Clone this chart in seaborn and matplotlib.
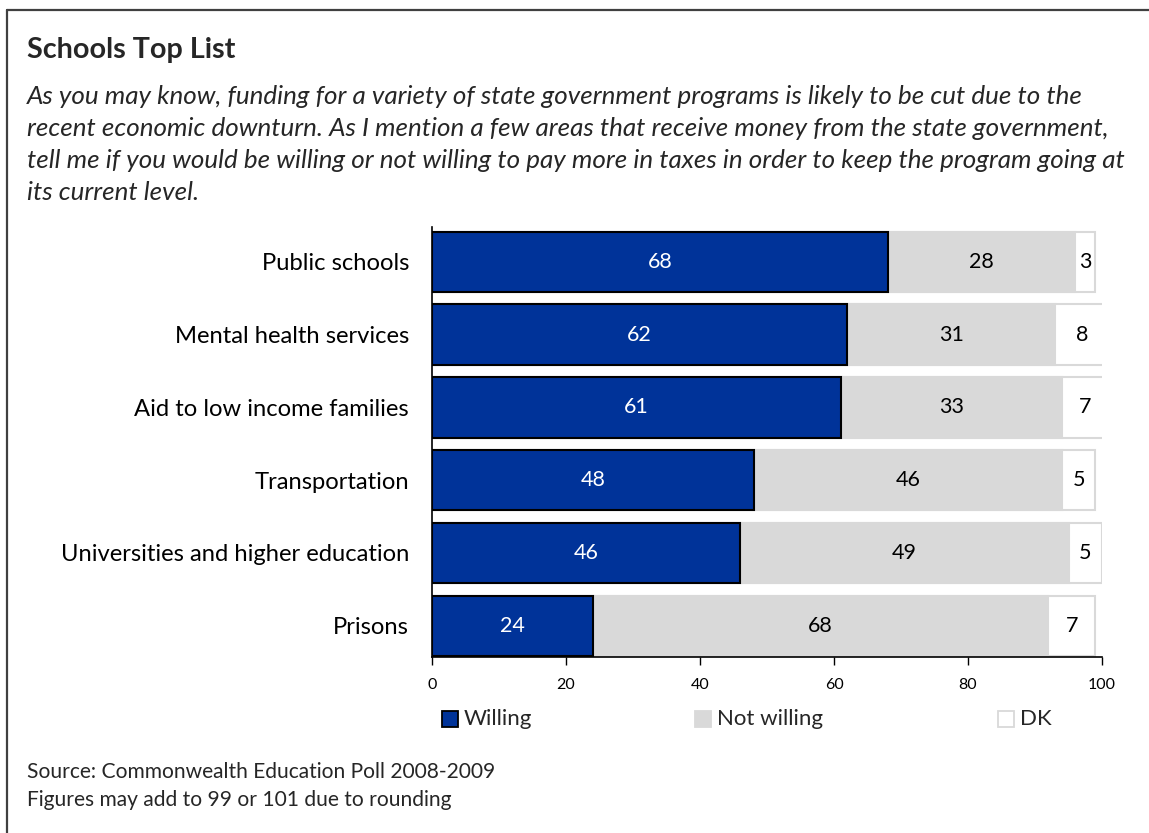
import matplotlib
matplotlib.use("Agg")
import matplotlib.pyplot as plt
import seaborn as sns
import pandas as pd
from matplotlib.patches import Rectangle
from matplotlib.lines import Line2D

categories = ["Public schools", "Mental health services", "Aid to low income families",
              "Transportation", "Universities and higher education", "Prisons"]
willing = [68, 62, 61, 48, 46, 24]
not_willing = [28, 31, 33, 46, 49, 68]
dk = [3, 8, 7, 5, 5, 7]
x_ticks = [0, 20, 40, 60, 80, 100]
series_names = ["Willing", "Not willing", "DK"]

df = pd.DataFrame({"category": categories, "willing": willing,
                   "not_willing": not_willing, "dk": dk})
df["cum2"] = df["willing"] + df["not_willing"]
df["cum3"] = df["cum2"] + df["dk"]

BLUE = "#003399"
GRAY = "#d9d9d9"
FONT = "Lato"

sns.set_theme(style="white")
plt.rcParams["font.family"] = [FONT, "DejaVu Sans"]

W, H = 1149, 833
fig = plt.figure(figsize=(W / 100, H / 100), dpi=100)
renderer = fig.canvas.get_renderer()


def fx(px):
    return px / W


def fy(py):
    return 1 - py / H


def fit_size(txt, target_px):
    """Scale a text object's font size so its rendered width equals target_px."""
    w = txt.get_window_extent(renderer=renderer).width
    txt.set_fontsize(txt.get_fontsize() * target_px / w)
    return txt.get_fontsize()


ax = fig.add_axes([fx(432), fy(657), fx(1102) - fx(432), fy(227) - fy(657)])

sns.barplot(data=df, y="category", x="cum3", orient="h", color="white",
            edgecolor=GRAY, linewidth=1.5, width=0.83, saturation=1, ax=ax)
sns.barplot(data=df, y="category", x="cum2", orient="h", color=GRAY,
            edgecolor=GRAY, linewidth=1.5, width=0.83, saturation=1, ax=ax)
sns.barplot(data=df, y="category", x="willing", orient="h", color=BLUE,
            edgecolor="black", linewidth=1.5, width=0.83, saturation=1, ax=ax)

ax.set_xlim(0, 100)
ax.set_ylim(5.43, -0.48)
ax.set_xticks(x_ticks)
ax.set_xticklabels([str(t) for t in x_ticks], fontsize=11.5, color="black")
ax.tick_params(axis="x", direction="out", length=6, width=1, color="black", pad=9, bottom=True)
ax.tick_params(axis="y", length=0, pad=16.5)
ax.set_yticks(range(len(categories)))

# category label size fitted to the longest label width
probe = fig.text(0, 0, "Universities and higher education", fontsize=14)
cat_size = fit_size(probe, 350)
probe.remove()
ax.set_yticklabels(categories, fontsize=cat_size, color="black")
ax.set_xlabel("")
ax.set_ylabel("")
for s in ["top", "right"]:
    ax.spines[s].set_visible(False)
for s in ["left", "bottom"]:
    ax.spines[s].set_color("black")
    ax.spines[s].set_linewidth(1.2)

for i in range(len(categories)):
    w, n, d = willing[i], not_willing[i], dk[i]
    ax.text(w / 2, i, str(w), ha="center", va="center", color="white", fontsize=15.5)
    ax.text(w + n / 2, i, str(n), ha="center", va="center", color="black", fontsize=15.5)
    ax.text(w + n + d / 2, i, str(d), ha="center", va="center", color="black", fontsize=15.5)

# Frame
fig.add_artist(Line2D([fx(7), fx(7)], [0, fy(10)], color="#404040", lw=1.6, transform=fig.transFigure))
fig.add_artist(Line2D([fx(7), 1], [fy(10), fy(10)], color="#404040", lw=1.6, transform=fig.transFigure))

# Title and subtitle
title = fig.text(fx(27), fy(58), "Schools Top List", fontsize=17, fontweight="bold",
                 va="baseline", ha="left")
fit_size(title, 208)
sub_lines = [
    "As you may know, funding for a variety of state government programs is likely to be cut due to the",
    "recent economic downturn. As I mention a few areas that receive money from the state government,",
    "tell me if you would be willing or not willing to pay more in taxes in order to keep the program going at",
    "its current level.",
]
sub_texts = []
for k, line in enumerate(sub_lines):
    sub_texts.append(fig.text(fx(27), fy(104 + 32 * k), line, fontsize=15, fontstyle="italic",
                              va="baseline", ha="left"))
sub_size = fit_size(sub_texts[0], 1056)
for t in sub_texts[1:]:
    t.set_fontsize(sub_size)

# Legend
legend_items = [(442, series_names[0], BLUE, "black"),
                (695, series_names[1], GRAY, GRAY),
                (998, series_names[2], "white", GRAY)]
for x0, lab, fc, ec in legend_items:
    fig.add_artist(Rectangle((fx(x0), fy(727)), fx(16), fy(711) - fy(727), facecolor=fc,
                             edgecolor=ec, lw=1.3, transform=fig.transFigure))
    fig.text(fx(x0 + 22), fy(725), lab, fontsize=16, va="baseline", ha="left")

# Footnotes
src = fig.text(fx(27), fy(778), "Source: Commonwealth Education Poll 2008-2009", fontsize=14,
               va="baseline", ha="left")
src_size = fit_size(src, 470)
fig.text(fx(27), fy(806), "Figures may add to 99 or 101 due to rounding", fontsize=src_size,
         va="baseline", ha="left")

fig.savefig("out.png", dpi=100)
